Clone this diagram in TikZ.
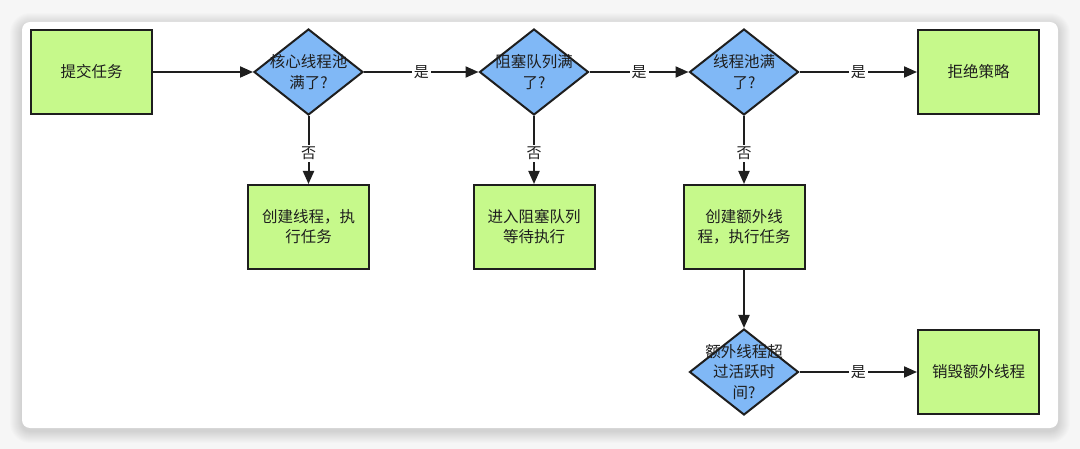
\documentclass[tikz,border=0pt]{standalone}
\usepackage{fontspec}
\setmainfont{Noto Sans CJK SC}
\usetikzlibrary{shapes.geometric,arrows.meta}
\definecolor{pagegrey}{HTML}{F6F6F6}
\definecolor{taskgreen}{HTML}{C6F98B}
\definecolor{askblue}{HTML}{80B8F6}
\definecolor{ink}{HTML}{1E1E1E}
\tikzset{
    task/.style={rectangle, draw=ink, line width=2pt, fill=taskgreen,
        minimum width=121pt, minimum height=84pt, align=center, text=ink,
        font=\fontsize{15.5}{20}\selectfont},
    ask/.style={diamond, draw=ink, line width=2pt, fill=askblue,
        minimum width=109pt, minimum height=86pt, inner sep=0pt},
    asktext/.style={align=center, text=ink, font=\fontsize{15.5}{20.5}\selectfont},
    flow/.style={draw=ink, line width=2pt, -{Triangle[length=13pt,width=11pt]}},
    answer/.style={fill=white, inner sep=2pt, text=ink, font=\fontsize{15}{17}\selectfont}
}
\begin{document}
\begin{tikzpicture}[x=1pt,y=-1pt]
    % Fondo y tarjeta con sombra suave
    \fill[pagegrey] (0,0) rectangle (1080,449);
    \useasboundingbox (0,0) rectangle (1080,449);
    \foreach \s in {1,...,12} {
        \pgfmathsetmacro\r{8+\s}
        \fill[black, opacity=0.011, rounded corners=\r pt]
            (22-\s,22-\s+3) rectangle (1058+\s,428+\s+3);
    }
    \fill[white, rounded corners=8pt] (22,22) rectangle (1058,428);

    % Fila superior
    \node[task] (submit) at (91.5,72) {提交任务};
    \node[ask, label={[asktext]center:核心线程池\\满了?}] (core) at (308.5,72) {};
    \node[ask, label={[asktext]center:阻塞队列满\\了?}] (queue) at (534,72) {};
    \node[ask, label={[asktext]center:线程池满\\了?}] (pool) at (744,72) {};
    \node[task] (reject) at (978.5,72) {拒绝策略};

    % Fila central
    \node[task] (newthread) at (308.5,227) {创建线程，执\\行任务};
    \node[task] (enqueue) at (534,227) {进入阻塞队列\\等待执行};
    \node[task] (extra) at (744,227) {创建额外线\\程，执行任务};

    % Fila inferior
    \node[ask, label={[asktext]center:额外线程超\\过活跃时\\间?}] (idle) at (744,372) {};
    \node[task] (destroy) at (978.5,372) {销毁额外线程};

    % Conexiones
    \draw[flow] (submit) -- (core);
    \draw[flow] (core) -- node[answer] {是} (queue);
    \draw[flow] (queue) -- node[answer] {是} (pool);
    \draw[flow] (pool) -- node[answer] {是} (reject);
    \draw[flow] (core) -- node[answer, pos=0.55] {否} (newthread);
    \draw[flow] (queue) -- node[answer, pos=0.55] {否} (enqueue);
    \draw[flow] (pool) -- node[answer, pos=0.55] {否} (extra);
    \draw[flow] (extra) -- (idle);
    \draw[flow] (idle) -- node[answer] {是} (destroy);
\end{tikzpicture}
\end{document}
